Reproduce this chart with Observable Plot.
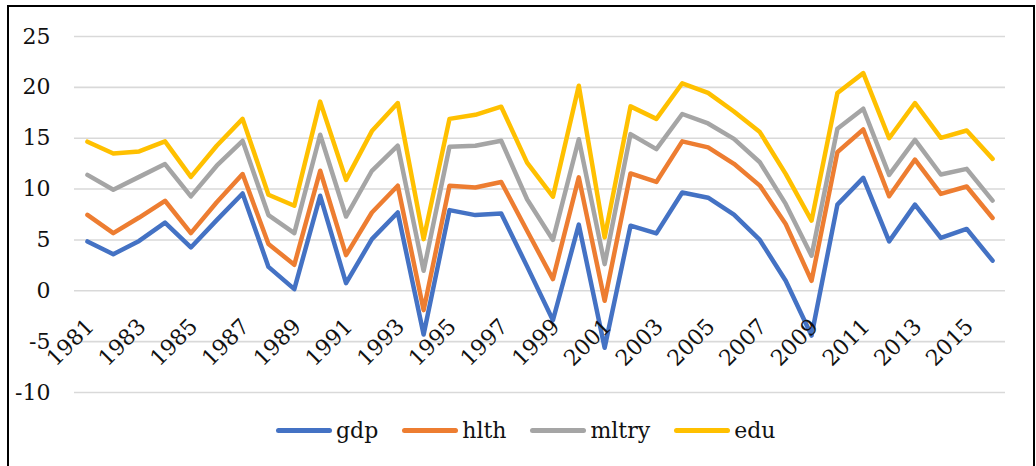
<!DOCTYPE html>
<html>
<head>
<meta charset="utf-8">
<script src="https://cdn.jsdelivr.net/npm/d3@7"></script>
<script src="https://cdn.jsdelivr.net/npm/@observablehq/plot@0.6"></script>
<style>
  html, body { margin: 0; padding: 0; background: #fff; }
  #chart { position: absolute; left: 0; top: 0; width: 1036px; height: 405px; }
  #frame { position: absolute; left: 7px; top: 5px; width: 1028px; height: 520px; box-sizing: border-box; border: 2px solid #000; pointer-events: none; }
  #legend { position: absolute; left: 276px; top: 414px; height: 32px; display: flex; align-items: center; font-family: "DejaVu Serif", serif; font-size: 22px; color: #111; }
  .item { display: flex; align-items: center; margin-right: 24px; }
  .swatch { width: 56px; height: 5px; border-radius: 3px; margin-right: 4px; }
</style>
</head>
<body>
<div id="chart"></div>
<div id="legend"></div>
<div id="frame"></div>
<script>
const years = [1981,1982,1983,1984,1985,1986,1987,1988,1989,1990,1991,1992,1993,1994,1995,1996,1997,1998,
               1999,2000,2001,2002,2003,2004,2005,2006,2007,2008,2009,2010,2011,2012,2013,2014,2015,2016];
const labelYears = [1981,1983,1985,1987,1989,1991,1993,1995,1997,1999,2001,2003,2005,2007,2009,2011,2013,2015];
const yTicks = [-10,-5,0,5,10,15,20,25];
const seriesNames = ["gdp","hlth","mltry","edu"];
const seriesColors = ["#4472C4","#ED7D31","#A5A5A5","#FFC000"];

const gdp   = [4.85,3.6,4.9,6.7,4.26,6.95,9.57,2.35,0.16,9.34,0.75,5.08,7.7,-4.3,7.93,7.44,7.6,2.4,-2.9,6.5,-5.6,6.4,5.64,9.67,9.15,7.49,5.0,0.99,-4.4,8.47,11.1,4.86,8.47,5.19,6.08,2.96];
const hlth  = [7.47,5.67,7.2,8.85,5.67,8.7,11.48,4.6,2.56,11.8,3.5,7.7,10.33,-1.9,10.33,10.16,10.7,5.9,1.15,11.15,-0.98,11.54,10.7,14.69,14.1,12.48,10.34,6.57,0.98,13.63,15.86,9.29,12.9,9.52,10.25,7.16];
const mltry = [11.4,9.93,11.2,12.46,9.28,12.3,14.75,7.44,5.67,15.34,7.3,11.8,14.26,1.97,14.16,14.26,14.75,9.0,5.0,14.9,2.62,15.4,13.93,17.38,16.45,14.94,12.64,8.54,3.45,15.93,17.9,11.4,14.84,11.43,11.99,8.87];
const edu   = [14.66,13.5,13.7,14.69,11.2,14.26,16.9,9.44,8.36,18.6,10.9,15.7,18.46,5.08,16.9,17.3,18.1,12.6,9.25,20.16,5.25,18.13,16.9,20.4,19.45,17.63,15.6,11.5,6.9,19.44,21.4,15.0,18.46,15.04,15.76,12.97];

const seriesValues = {gdp, hlth, mltry, edu};
const data = seriesNames.flatMap(s => years.map((y, i) => ({series: s, year: y, value: seriesValues[s][i]})));

const font = "DejaVu Serif";
const chart = Plot.plot({
  width: 1036,
  height: 405,
  marginLeft: 74,
  marginRight: 31,
  marginTop: 36,
  marginBottom: 13,
  style: {fontFamily: font, fontSize: "22px", color: "#111", background: "transparent", overflow: "visible"},
  x: {type: "point", domain: years, padding: 0.5, axis: null},
  y: {domain: [-10, 25], axis: null},
  color: {domain: seriesNames, range: seriesColors},
  marks: [
    Plot.gridY(yTicks, {stroke: "#D9D9D9", strokeOpacity: 1, strokeWidth: 1.6}),
    Plot.axisY(yTicks, {label: null, tickSize: 0, tickPadding: 24, fontSize: 22, fill: "#111", tickFormat: d => String(d)}),
    Plot.line(data, {x: "year", y: "value", z: "series", stroke: "series", strokeWidth: 4.5, strokeLinejoin: "round", strokeLinecap: "round"}),
    Plot.text(labelYears, {x: d => d, y: () => 0, text: d => String(d), rotate: -45, textAnchor: "end", lineAnchor: "middle", dx: 3, dy: 32, fontSize: 22, fill: "#111"})
  ]
});
document.getElementById("chart").appendChild(chart);

const legend = document.getElementById("legend");
seriesNames.forEach((s, i) => {
  const item = document.createElement("div");
  item.className = "item";
  const sw = document.createElement("div");
  sw.className = "swatch";
  sw.style.background = seriesColors[i];
  const t = document.createElement("span");
  t.textContent = s;
  item.appendChild(sw);
  item.appendChild(t);
  legend.appendChild(item);
});
</script>
</body>
</html>
